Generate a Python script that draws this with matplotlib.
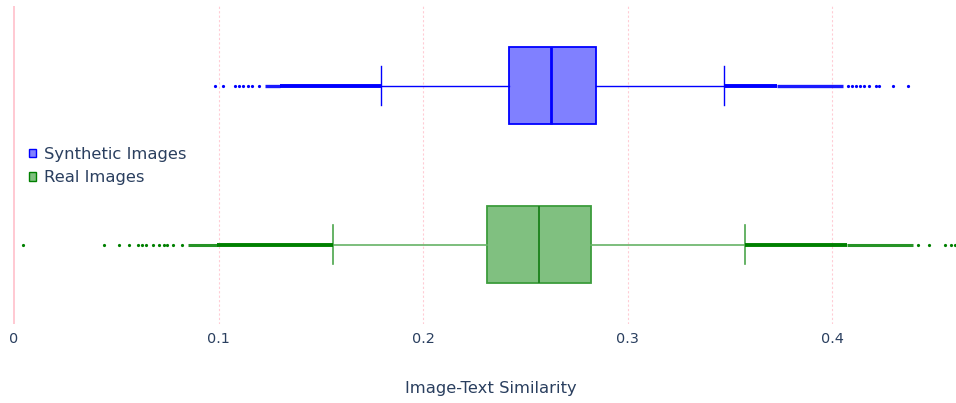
import numpy as np
import matplotlib
matplotlib.use('Agg')
import matplotlib.pyplot as plt
from matplotlib.patches import Patch

plt.rcParams['font.family'] = ['DejaVu Sans']

# 数据
names = ['Synthetic Images', 'Real Images']
q1 = [0.2421, 0.2313]
med = [0.2625, 0.2567]
q3 = [0.2843, 0.2819]
whislo = [0.1792, 0.1559]
whishi = [0.3472, 0.3573]

syn_fliers = [0.0982, 0.1020, 0.1080, 0.1101, 0.1121, 0.1142, 0.1165, 0.1199,
              0.4075, 0.4097, 0.4115, 0.4135, 0.4154, 0.4179, 0.4213, 0.4229, 0.4298, 0.4371]
real_fliers = [0.0043, 0.0441, 0.0515, 0.0561, 0.0608, 0.0624, 0.0645, 0.0678, 0.0709,
               0.0735, 0.0746, 0.0779, 0.0820,
               0.4420, 0.4474, 0.4550, 0.4578, 0.4599]
# dense outlier runs (too many points to tell apart)
syn_dense = [(0.1300, 0.1792), (0.3472, 0.3728)]
syn_dense_light = [(0.1227, 0.1300), (0.3728, 0.4054)]
real_dense = [(0.0991, 0.1559), (0.3573, 0.4070)]
real_dense_light = [(0.0852, 0.0991), (0.4070, 0.4396)]

xticks = [0, 0.1, 0.2, 0.3, 0.4]
xticklabels = ['0', '0.1', '0.2', '0.3', '0.4']

txt_color = '#2a3f5f'

fig = plt.figure(figsize=(9.56, 4.03), dpi=100)
ax = fig.add_axes([0, 79 / 403, 1, 318 / 403])

# grid + zero line
for t in xticks[1:]:
    ax.axvline(t, color='#ffc0cb', lw=0.8, ls=(0, (2, 2)), alpha=0.8, zorder=0)
ax.axvline(0, color='#ffc0cb', lw=1.2, zorder=0)

def stats(i, fl):
    return dict(q1=q1[i], med=med[i], q3=q3[i], whislo=whislo[i], whishi=whishi[i], fliers=fl)

# synthetic (top)
ax.bxp([stats(0, syn_fliers)], positions=[1], widths=0.49, capwidths=0.245,
       orientation='horizontal', patch_artist=True,
       boxprops=dict(facecolor='#8080ff', edgecolor='blue', lw=1.3),
       medianprops=dict(color='blue', lw=2),
       whiskerprops=dict(color='blue', lw=1),
       capprops=dict(color='blue', lw=1),
       flierprops=dict(marker='o', markersize=2.3, markerfacecolor='blue', markeredgecolor='none'))
# real (bottom)
ax.bxp([stats(1, real_fliers)], positions=[0], widths=0.49, capwidths=0.245,
       orientation='horizontal', patch_artist=True,
       boxprops=dict(facecolor='#80c080', edgecolor='#3c9c3c', lw=1.3),
       medianprops=dict(color='#1a801a', lw=1.3),
       whiskerprops=dict(color='#66b366', lw=1.2),
       capprops=dict(color='#4ca64c', lw=1.2),
       flierprops=dict(marker='o', markersize=2.3, markerfacecolor='green', markeredgecolor='none'))

for a, b in syn_dense:
    ax.hlines(1, a, b, color='blue', lw=2.8, zorder=3)
for a, b in syn_dense_light:
    ax.hlines(1, a, b, color='blue', lw=2.4, alpha=0.9, zorder=3)
for a, b in real_dense:
    ax.hlines(0, a, b, color='green', lw=2.8, zorder=3)
for a, b in real_dense_light:
    ax.hlines(0, a, b, color='green', lw=2.2, alpha=0.85, zorder=3)

ax.set_xlim(-14 / 2046, 942 / 2046)
ax.set_ylim(-0.5, 1.5)
ax.set_yticks([])
ax.set_xticks(xticks)
ax.set_xticklabels(xticklabels)
ax.tick_params(axis='x', length=0, pad=6, labelsize=10.4, labelcolor=txt_color)
for s in ax.spines.values():
    s.set_visible(False)

fig.text(491 / 956, 1 - 388 / 403, 'Image-Text Similarity', ha='center', va='center',
         fontsize=11.8, color=txt_color)

handles = [Patch(facecolor='#8080ff', edgecolor='blue', lw=1),
           Patch(facecolor='#80c080', edgecolor='green', lw=1)]
leg = ax.legend(handles, names, loc='center left', bbox_to_anchor=(29 / 956, 1 - 166 / 403),
                bbox_transform=fig.transFigure, frameon=False, fontsize=11.8,
                handlelength=0.45, handleheight=0.45, handletextpad=0.45,
                labelspacing=0.5, borderpad=0, borderaxespad=0)
for t in leg.get_texts():
    t.set_color(txt_color)

plt.savefig('out.png', dpi=100)
